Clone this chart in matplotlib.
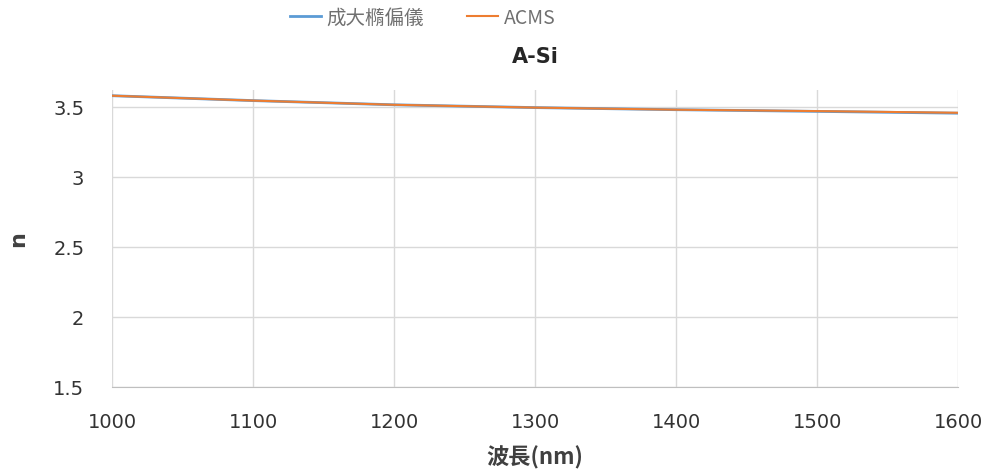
import matplotlib
matplotlib.use("Agg")
import matplotlib.pyplot as plt

plt.rcParams['font.family'] = ['Noto Sans CJK TC', 'DejaVu Sans']

wavelength = [1000, 1100, 1200, 1300, 1400, 1500, 1600]
n_ncku = [3.58, 3.545, 3.515, 3.495, 3.48, 3.468, 3.455]
n_acms = [3.58, 3.545, 3.515, 3.495, 3.48, 3.47, 3.458]
series_names = ['成大橢偏儀', 'ACMS']

fig = plt.figure(figsize=(9.83, 4.77), dpi=100)
ax = fig.add_axes([0.114, 0.187, 0.861, 0.622])

ax.plot(wavelength, n_ncku, color='#5B9BD5', lw=2, label=series_names[0])
ax.plot(wavelength, n_acms, color='#ED7D31', lw=1.5, label=series_names[1])

ax.set_xlim(1000, 1600)
ax.set_ylim(1.5, 3.62)
ax.set_xticks(wavelength)
ax.set_yticks([1.5, 2, 2.5, 3, 3.5])
ax.set_yticklabels(['1.5', '2', '2.5', '3', '3.5'])
ax.grid(True, color='#D9D9D9', lw=1)
ax.set_axisbelow(True)
for s in ['top', 'right', 'left']:
    ax.spines[s].set_visible(False)
ax.spines['bottom'].set_color('#BFBFBF')
ax.tick_params(axis='x', length=0, labelsize=14, colors='#333333', pad=18)
ax.tick_params(axis='y', length=0, labelsize=14, colors='#333333', pad=20)
for lbl in ax.get_xticklabels() + ax.get_yticklabels():
    lbl.set_family('DejaVu Sans')

ax.set_title('A-Si', fontsize=15, fontweight='bold', color='#262626', pad=20,
             family=['DejaVu Sans'])
ax.set_xlabel('波長(nm)', fontsize=16, fontweight='bold', color='#404040', labelpad=10)
ax.set_ylabel('n', fontsize=16, fontweight='bold', color='#404040', labelpad=18,
              family=['DejaVu Sans'])

fig.legend(loc='upper center', bbox_to_anchor=(0.43, 1.02), ncol=2, frameon=False,
           fontsize=14, handlelength=1.6, handletextpad=0.3, columnspacing=2.2,
           labelcolor='#707070')

fig.savefig('out.png', dpi=100)
